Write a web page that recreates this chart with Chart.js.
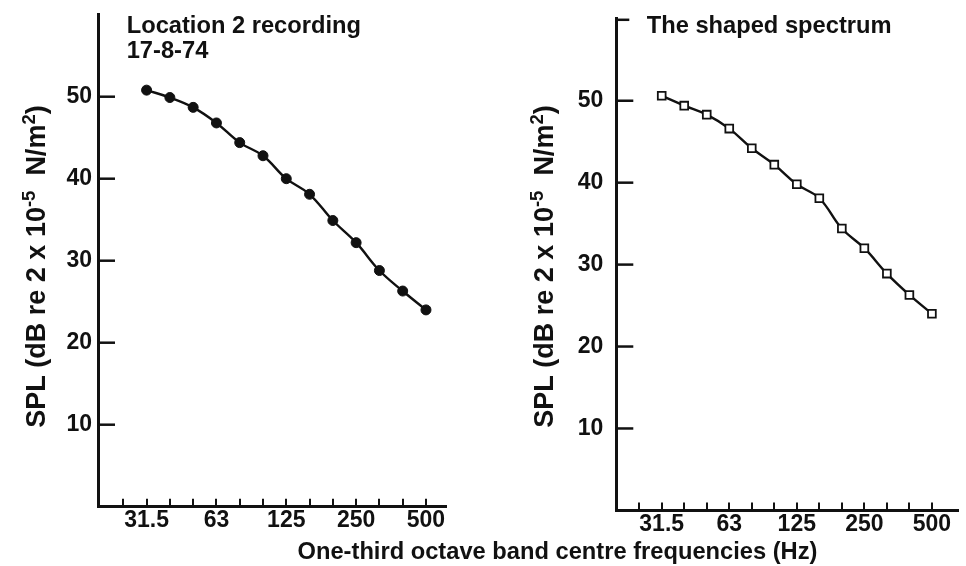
<!DOCTYPE html>
<html><head><meta charset="utf-8">
<script src="https://cdn.jsdelivr.net/npm/chart.js@4/dist/chart.umd.min.js"></script>
<style>
html,body{margin:0;padding:0;background:#fff;}
#wrap{position:relative;width:966px;height:566px;overflow:hidden;background:#fff;}
canvas{position:absolute;top:0;}
#xt{position:absolute;left:149px;width:817px;top:538px;text-align:center;font-family:"Liberation Sans",Arial,Helvetica,sans-serif;font-weight:bold;font-size:23.7px;line-height:26px;color:#111;white-space:nowrap;pointer-events:none;}
</style></head><body>
<div id="wrap">
<canvas id="c1" width="483" height="566" style="left:0"></canvas>
<canvas id="c2" width="483" height="566" style="left:483px"></canvas>
<div id="xt">One-third octave band centre frequencies (Hz)</div>
</div>
<script>
// One-third octave band centre frequencies (Hz) on the x axis (tick marks at every band)
const freqLabels = ['25','31.5','40','50','63','80','100','125','160','200','250','315','400','500'];
// Bands that carry a printed label
const shownLabels = ['31.5','63','125','250','500'];
// Bands that have a measured point
const dataFreqs = ['31.5','40','50','63','80','100','125','160','200','250','315','400','500'];
// SPL values (dB)
const location2Values = [50.8, 49.9, 48.7, 46.8, 44.4, 42.8, 40.0, 38.1, 34.9, 32.2, 28.8, 26.3, 24.0];
const shapedValues    = [50.6, 49.4, 48.3, 46.6, 44.2, 42.2, 39.8, 38.1, 34.4, 32.0, 28.9, 26.3, 24.0];
// y-axis tick labels
const yTicks = [10, 20, 30, 40, 50];

const INK = '#111';
const FONT = '"Liberation Sans", Arial, Helvetica, sans-serif';

function toPoints(vals) {
  return dataFreqs.map((f, i) => ({ x: freqLabels.indexOf(f), y: vals[i] }));
}

function drawYTitle(ctx, x, cy) {
  const big = 'bold 27px ' + FONT;
  const small = 'bold 18.5px ' + FONT;
  const parts = [['SPL (dB re 2 x 10', big, 0], ['-5', small, -10.5], ['  N/m', big, 0], ['2', small, -10.5], [')', big, 0]];
  let total = 0;
  parts.forEach(p => { ctx.font = p[1]; total += ctx.measureText(p[0]).width; });
  ctx.save();
  ctx.translate(x, cy);
  ctx.rotate(-Math.PI / 2);
  ctx.textAlign = 'left';
  ctx.textBaseline = 'alphabetic';
  ctx.fillStyle = INK;
  let px = -total / 2;
  parts.forEach(p => { ctx.font = p[1]; ctx.fillText(p[0], px, p[2]); px += ctx.measureText(p[0]).width; });
  ctx.restore();
}

function makeChart(id, cfg) {
  const deco = {
    id: 'deco',
    afterDraw(chart) {
      const ctx = chart.ctx, xs = chart.scales.x, ys = chart.scales.y, a = chart.chartArea;
      ctx.save();
      ctx.strokeStyle = INK;
      ctx.lineCap = 'butt';
      ctx.lineWidth = 2;
      freqLabels.forEach((_, i) => {
        const px = Math.round(xs.getPixelForValue(i));
        ctx.beginPath(); ctx.moveTo(px, a.bottom); ctx.lineTo(px, a.bottom - 8); ctx.stroke();
      });
      ctx.lineWidth = 2.5;
      yTicks.forEach(v => {
        const py = ys.getPixelForValue(v);
        ctx.beginPath(); ctx.moveTo(a.left, py); ctx.lineTo(a.left + 17, py); ctx.stroke();
      });
      if (cfg.cap) {
        ctx.lineWidth = 2.5;
        ctx.beginPath(); ctx.moveTo(a.left, a.top + 1); ctx.lineTo(a.left + 13, a.top + 1); ctx.stroke();
      }
      ctx.fillStyle = INK;
      ctx.font = 'bold 23.7px ' + FONT;
      ctx.textAlign = 'left';
      ctx.textBaseline = 'alphabetic';
      cfg.titleLines.forEach((t, k) => ctx.fillText(t, cfg.titleX, cfg.titleY + k * 25.6));
      drawYTitle(ctx, cfg.yTitleX, 266.5);
      ctx.restore();
    }
  };
  return new Chart(document.getElementById(id), {
    type: 'line',
    data: {
      datasets: [{
        data: toPoints(cfg.values),
        borderColor: INK,
        borderWidth: 2.4,
        tension: 0.4,
        fill: false,
        pointStyle: cfg.pointStyle,
        pointRadius: cfg.pointRadius,
        pointBackgroundColor: cfg.pointFill,
        pointBorderColor: INK,
        pointBorderWidth: cfg.pointBorderWidth
      }]
    },
    options: {
      responsive: false,
      animation: false,
      events: [],
      layout: { padding: cfg.padding },
      plugins: { legend: { display: false }, tooltip: { enabled: false } },
      scales: {
        x: {
          type: 'linear',
          min: cfg.xmin, max: cfg.xmax,
          afterBuildTicks: s => { s.ticks = freqLabels.map((_, i) => ({ value: i })); },
          afterFit: s => { s.height = cfg.xHeight; },
          grid: { display: false },
          border: { display: true, color: INK, width: 3 },
          ticks: {
            autoSkip: false, maxRotation: 0, minRotation: 0, padding: -8,
            color: INK, font: { family: FONT, size: 23, weight: 'bold' },
            callback: v => shownLabels.includes(freqLabels[v]) ? freqLabels[v] : ''
          }
        },
        y: {
          type: 'linear',
          min: 0, max: 60,
          afterBuildTicks: s => { s.ticks = yTicks.map(v => ({ value: v })); },
          afterFit: s => { s.width = cfg.yWidth; },
          grid: { display: false },
          border: { display: true, color: INK, width: 3 },
          ticks: {
            padding: cfg.yPad, color: INK, font: { family: FONT, size: 23, weight: 'bold' },
            callback: v => String(v)
          }
        }
      }
    },
    plugins: [deco]
  });
}

makeChart('c1', {
  values: location2Values, pointStyle: 'circle', pointRadius: 5, pointFill: INK, pointBorderWidth: 1,
  padding: { left: 0, top: 14.7, right: 37, bottom: 0 },
  xHeight: 59.3, yWidth: 98, yPad: -2, xmin: -1.087, xmax: 13.86,
  titleLines: ['Location 2 recording', '17-8-74'], titleX: 126.7, titleY: 32.7,
  yTitleX: 45, cap: false
});
makeChart('c2', {
  values: shapedValues, pointStyle: 'rect', pointRadius: 5.5, pointFill: '#fff', pointBorderWidth: 1.8,
  padding: { left: 0, top: 16, right: 0, bottom: 0 },
  xHeight: 55.6, yWidth: 133.3, yPad: 5, xmin: -1.017, xmax: 14.19,
  titleLines: ['The shaped spectrum'], titleX: 163.7, titleY: 33,
  yTitleX: 70, cap: true
});
</script>
</body></html>
